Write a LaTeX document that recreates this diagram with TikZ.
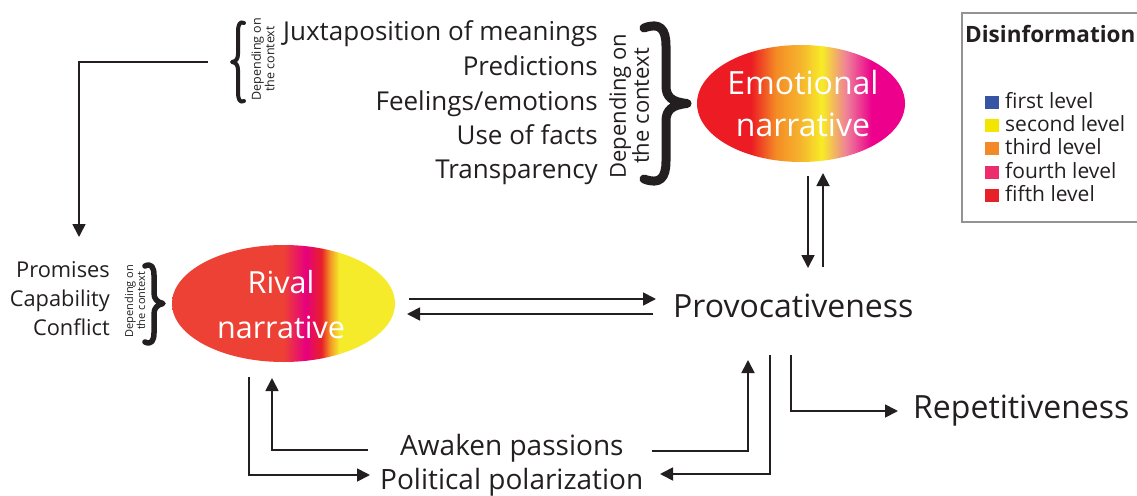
\documentclass[tikz,border=0pt]{standalone}
\usepackage{fontspec}
\setmainfont{Open Sans}
\usetikzlibrary{shapes.geometric,arrows.meta,calc}
\definecolor{emred}{HTML}{ED1C24}
\definecolor{emorange}{HTML}{F48C25}
\definecolor{emamber}{HTML}{F6B52E}
\definecolor{emyellow}{HTML}{F7EC26}
\definecolor{empink}{HTML}{EE7E9A}
\definecolor{emmag}{HTML}{EC008C}
\definecolor{rvred}{HTML}{EE4136}
\definecolor{rvmag}{HTML}{E6007E}
\definecolor{rvred2}{HTML}{E8202A}
\definecolor{rvorange}{HTML}{F39A27}
\definecolor{rvyellow}{HTML}{F5EB2A}
\definecolor{lgblue}{HTML}{3753A4}
\definecolor{lgyellow}{HTML}{F2E600}
\definecolor{lgorange}{HTML}{F28A28}
\definecolor{lgpink}{HTML}{EC2C6B}
\definecolor{lgred}{HTML}{E8202A}
\definecolor{txt}{HTML}{231F20}
\pgfdeclarehorizontalshading{emoshade}{100bp}{color(0bp)=(emred); color(38bp)=(emred); color(44bp)=(emorange); color(50bp)=(emamber); color(55bp)=(emyellow); color(61bp)=(empink); color(67bp)=(emmag); color(100bp)=(emmag)}
\pgfdeclarehorizontalshading{rivshade}{100bp}{color(0bp)=(rvred); color(50bp)=(rvred); color(55bp)=(rvmag); color(58.5bp)=(rvred2); color(60.5bp)=(rvorange); color(62.5bp)=(rvyellow); color(100bp)=(rvyellow)}
\tikzset{
  arr/.style={line width=1.8pt, draw=txt, -{Triangle[length=13pt,width=13pt]}},
  txtnode/.style={inner sep=0, text=txt},
  biglabel/.style={txtnode, font=\fontsize{32}{36}\selectfont},
  listlabel/.style={txtnode, anchor=base east, font=\fontsize{26}{30}\selectfont},
  leftlabel/.style={txtnode, anchor=base east, font=\fontsize{21.8}{24}\selectfont},
  botlabel/.style={txtnode, anchor=base west, font=\fontsize{28}{32}\selectfont},
  oval/.style={ellipse, inner sep=0, text=white, align=center},
  legitem/.style={txtnode, anchor=base west, font=\fontsize{21}{22}\selectfont},
  legsq/.style={minimum width=14pt, minimum height=13pt, inner sep=0},
  bracestroke/.style={draw=txt, line cap=round, line join=round}
}
\begin{document}
\begin{tikzpicture}[x=1pt, y=-1pt]
\path[use as bounding box] (0,0) rectangle (1137,495);
\begin{scope}
\clip (0,0) rectangle (1137,495);
\draw[draw=gray!85, line width=1.3pt] (962,13) rectangle (1150,222);
\end{scope}
% legend
\node[txtnode, anchor=base west, font=\fontsize{22.5}{28}\selectfont\bfseries] (legtitle) at (965,43) {Disinformation};
\node[legsq, fill=lgblue] (sq1) at (992,102) {};
\node[legsq, fill=lgyellow] (sq2) at (992,125) {};
\node[legsq, fill=lgorange] (sq3) at (992,148) {};
\node[legsq, fill=lgpink] (sq4) at (992,172) {};
\node[legsq, fill=lgred] (sq5) at (992,195) {};
\node[legitem] (l1) at (1005,108) {first level};
\node[legitem] (l2) at (1005,131) {second level};
\node[legitem] (l3) at (1005,154) {third level};
\node[legitem] (l4) at (1005,178) {fourth level};
\node[legitem] (l5) at (1005,201) {fifth level};

% ellipses
\node[oval, shading=emoshade, minimum width=208pt, minimum height=117pt] (emo) at (801,103.5) {};
\node[txtnode, text=white, align=center, font=\fontsize{32}{42}\selectfont] (emotxt) at (803,103) {Emotional\\narrative};
\node[oval, shading=rivshade, minimum width=223pt, minimum height=117pt] (riv) at (283.5,303.5) {};
\node[txtnode, text=white, align=center, font=\fontsize{30.5}{45}\selectfont] (rivtxt) at (281,305) {Rival\\narrative};

% top list
\node[listlabel] (jux) at (598,41) {Juxtaposition of meanings};
\node[listlabel] (pred) at (598,75) {Predictions};
\node[listlabel] (feel) at (598,110) {Feelings/emotions};
\node[listlabel] (facts) at (598,144) {Use of facts};
\node[listlabel] (transp) at (598,178) {Transparency};
\node[txtnode, rotate=90, align=center, font=\fontsize{22}{21}\selectfont] (dep2) at (629,106) {Depending on\\the context};
\draw[bracestroke, line width=9pt] (644,28) .. controls (660,22) and (666,29) .. (666,46) -- (666,86) .. controls (666,97) and (672,102) .. (687,103.5) .. controls (672,105) and (666,110) .. (666,121) -- (666,161) .. controls (666,178) and (660,185) .. (644,179);

% top-left small brace
\draw[bracestroke, line width=4pt] (244,23) .. controls (240,21) and (238,24) .. (238,32) -- (238,54) .. controls (238,59) and (236,61.5) .. (232,62) .. controls (236,62.5) and (238,65) .. (238,70) -- (238,92) .. controls (238,100) and (240,103) .. (244,101);
\node[txtnode, rotate=90, align=center, font=\fontsize{12.5}{10.5}\selectfont] (dep1) at (263,59) {Depending on\\the context};

% left list
\node[leftlabel] (prom) at (110,277) {Promises};
\node[leftlabel] (capab) at (110,306) {Capability};
\node[leftlabel] (confl) at (110,335) {Conflict};
\node[txtnode, rotate=90, align=center, font=\fontsize{11}{9.5}\selectfont] (dep3) at (135,301) {Depending on\\the context};
\draw[bracestroke, line width=5.5pt] (145,266) .. controls (151,263) and (154,267) .. (154,275) -- (154,293) .. controls (154,299) and (157,302) .. (163,303.5) .. controls (157,305) and (154,308) .. (154,314) -- (154,333) .. controls (154,341) and (151,345) .. (145,342);

% central labels
\node[biglabel, anchor=base west] (prov) at (673,317) {Provocativeness};
\node[biglabel, anchor=base west] (rep) at (913,418) {Repetitiveness};
\node[botlabel] (awaken) at (400,455) {Awaken passions};
\node[botlabel] (polit) at (380,489) {Political polarization};

% connector coordinates
\coordinate (tlstart) at (208,62);
\coordinate (tlend) at (79,237);
\coordinate (emoD1) at (808,176);
\coordinate (provU1) at (808,268);
\coordinate (provU2) at (823,267);
\coordinate (emoD2) at (823,173);
\coordinate (rivR1) at (409,299);
\coordinate (provL1) at (656,299);
\coordinate (provL2) at (653,314);
\coordinate (rivR2) at (407,314);
\coordinate (rivB1) at (249,377);
\coordinate (politL) at (370,475);
\coordinate (awakL) at (368,450);
\coordinate (rivB2) at (272,378);
\coordinate (awakR) at (652,451);
\coordinate (provB1) at (748,360);
\coordinate (provB2) at (770,355);
\coordinate (politR) at (660,474);
\coordinate (provB3) at (791,355);
\coordinate (repL) at (898,411);

\draw[arr] (tlstart) -- (tlstart -| tlend) -- (tlend);
\draw[arr] (emoD1) -- (provU1);
\draw[arr] (provU2) -- (emoD2);
\draw[arr] (rivR1) -- (provL1);
\draw[arr] (provL2) -- (rivR2);
\draw[arr] (rivB1) |- (politL);
\draw[arr] (awakL) -| (rivB2);
\draw[arr] (awakR) -| (provB1);
\draw[arr] (provB2) |- (politR);
\draw[arr] (provB3) |- (repL);
\end{tikzpicture}
\end{document}
